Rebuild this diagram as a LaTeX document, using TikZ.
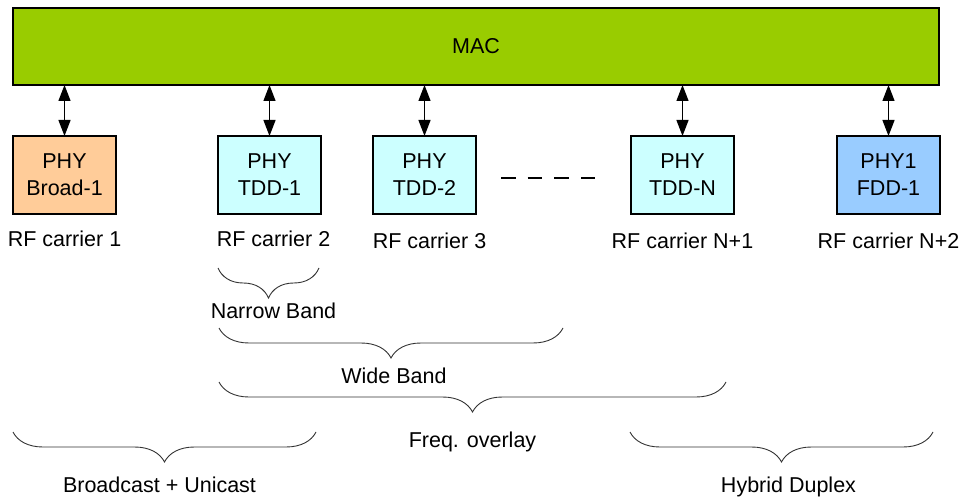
\documentclass[tikz,border=0pt]{standalone}
\usepackage{fontspec}
\setmainfont{Liberation Sans}
\usepackage{xcolor}
\definecolor{MacGreen}{RGB}{153,204,0}
\definecolor{PhyOrange}{RGB}{255,204,153}
\definecolor{PhyCyan}{RGB}{204,255,255}
\definecolor{PhyBlue}{RGB}{153,204,255}
\usepackage{tikz}
\usetikzlibrary{positioning,arrows.meta,decorations.pathreplacing}

\begin{document}
\begin{tikzpicture}[x=1pt,y=1pt,
    txt/.style={font=\fontsize{21.5}{27}\selectfont},
    phy/.style={txt,draw,line width=2pt,outer sep=0pt,inner sep=0pt,
      minimum width=103pt,minimum height=78pt,align=center},
    link/.style={{Triangle[length=16pt,width=12pt]}-{Triangle[length=16pt,width=12pt]},
      line width=1.3pt},
    band/.style={decorate,decoration={brace,mirror,amplitude=30pt},
      line width=0.9pt,draw=black!80},
  ]
    \useasboundingbox (0,0) rectangle (961,496);
    \node[txt,draw,line width=2pt,outer sep=0pt,fill=MacGreen,
      minimum width=926pt,minimum height=77pt] (mac) at (476,449.5) {MAC};
    % physical layers
    \node[phy,fill=PhyOrange] (broad) at (64.5,321) {PHY\\Broad-1};
    \node[phy,fill=PhyCyan,right=102pt of broad] (tdd1) {PHY\\TDD-1};
    \node[phy,fill=PhyCyan,right=52pt of tdd1] (tdd2) {PHY\\TDD-2};
    \node[phy,fill=PhyCyan,right=155pt of tdd2] (tddn) {PHY\\TDD-N};
    \node[phy,fill=PhyBlue,right=103pt of tddn] (fdd) {PHY1\\FDD-1};
    \foreach \p in {broad,tdd1,tdd2,tddn,fdd}
      \draw[link] (mac.south -| \p.north) -- (\p.north);
    \coordinate (dots-l) at (501,318);
    \coordinate (dots-r) at (595,318);
    \draw[line width=2pt,dash pattern=on 14.7pt off 12pt] (dots-l) -- (dots-r);
    % carriers
    \node[txt,below=13pt of broad] (rf1) {RF carrier 1};
    \node[txt,below=13pt of tdd1,xshift=4pt] (rf2) {RF carrier 2};
    \node[txt,below=15pt of tdd2,xshift=5pt] (rf3) {RF carrier 3};
    \node[txt,below=15pt of tddn] (rfn1) {RF carrier N+1};
    \node[txt,below=15pt of fdd] (rfn2) {RF carrier N+2};
    % bands
    \coordinate (nb-l) at (218,228); \coordinate (nb-r) at (319,228);
    \coordinate (wb-l) at (219,168); \coordinate (wb-r) at (563,168);
    \coordinate (fo-l) at (219,114); \coordinate (fo-r) at (726,114);
    \coordinate (bu-l) at (13,64);   \coordinate (bu-r) at (316,64);
    \coordinate (hd-l) at (630,64);  \coordinate (hd-r) at (933,64);
    \draw[band] (nb-l) -- node[txt,xshift=5pt,yshift=-42.5pt] (nb) {Narrow Band} (nb-r);
    \draw[band] (wb-l) -- node[txt,xshift=3pt,yshift=-47.5pt] (wb) {Wide Band} (wb-r);
    \draw[band] (fo-l) -- node[txt,yshift=-59.7pt] (fo) {Freq. overlay} (fo-r);
    \draw[band] (bu-l) -- node[txt,xshift=-5pt,yshift=-52.5pt] (bu) {Broadcast + Unicast} (bu-r);
    \draw[band] (hd-l) -- node[txt,xshift=7pt,yshift=-54.7pt] (hd) {Hybrid Duplex} (hd-r);
  \end{tikzpicture}
\end{document}
